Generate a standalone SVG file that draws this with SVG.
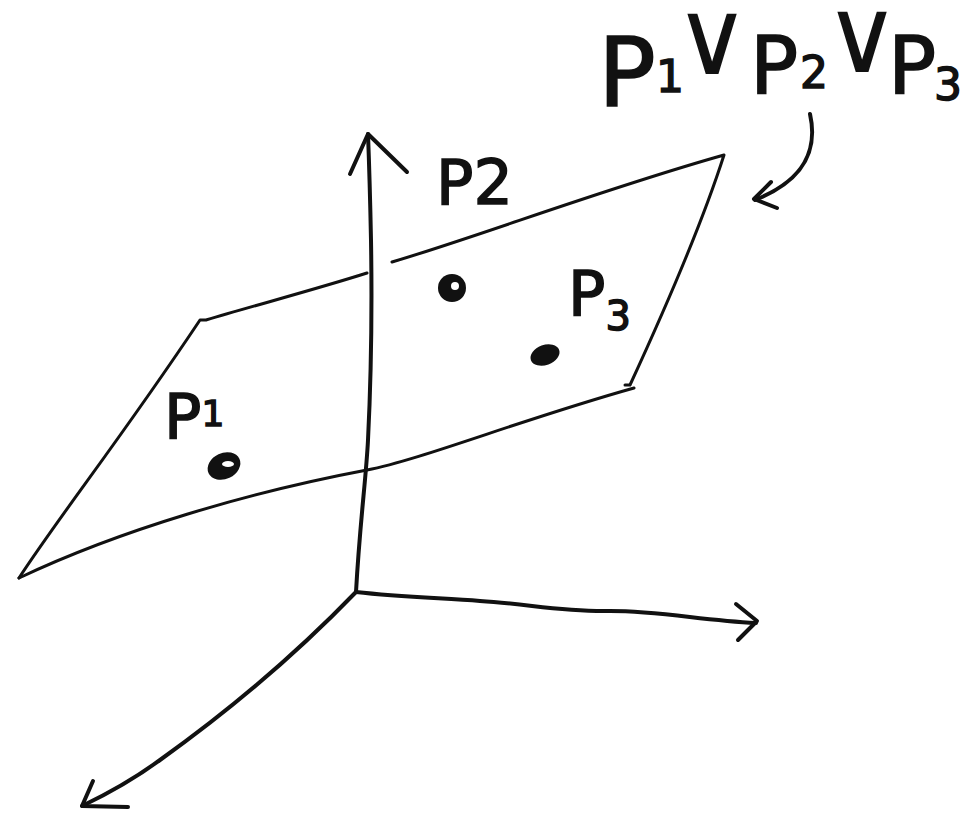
<svg xmlns="http://www.w3.org/2000/svg" width="964" height="822" viewBox="0 0 964 822">
<style>
.ln{fill:none;stroke:#111;stroke-width:4;stroke-linecap:round;stroke-linejoin:round}
.th{stroke-width:3}
.tx{font-family:"DejaVu Sans","Liberation Sans",sans-serif;fill:#111;stroke:#111;stroke-width:1.5}
.or{font-family:"DejaVu Sans","Liberation Sans",sans-serif;fill:#111;font-size:104px}
</style>
<rect width="964" height="822" fill="#fff"/>
<g id="connectors">
  <path class="ln" d="M356 592 C360 520 366 480 368 440 C371 380 372 300 371 240 C370 190 369 160 368 134"/>
  <path class="ln" d="M350 174 L368 134 L407 172"/>
  <path class="ln" d="M356 592 C400 597 440 598 480 601 C530 604 560 612 610 611 C660 611 700 620 756 623"/>
  <path class="ln" d="M736 604 L757 621 L738 640"/>
  <path class="ln" d="M356 592 C300 650 230 710 160 760 C130 782 105 795 82 806"/>
  <path class="ln" d="M93 781 L82 806 L128 807"/>
  <path class="ln" d="M810 114 C818 150 805 180 755 200"/>
  <path class="ln" d="M771 182 L754 199 L777 208"/>
</g>
<g id="plane">
  <path class="ln th" d="M19 578 C60 515 120 440 200 320 L206 320 C260 304 320 288 367 273"/>
  <path class="ln th" d="M392 262 C480 236 600 190 724 155 C700 230 660 320 630 385 L625 385"/>
  <path class="ln th" d="M634 388 C520 420 420 460 367 470 C250 492 120 530 19 578"/>
</g>
<g id="p1">
  <text class="tx" x="164" y="438" font-size="62">P<tspan font-size="36" dy="-12">1</tspan></text>
  <ellipse cx="224" cy="466" rx="17" ry="13" transform="rotate(-25 224 466)" fill="#111"/>
  <ellipse cx="228" cy="464" rx="6" ry="3" fill="#fff"/>
</g>
<g id="p2">
  <text class="tx" x="436" y="204" font-size="62">P2</text>
  <circle cx="452" cy="288" r="14" fill="#111"/>
  <circle cx="455" cy="286" r="4" fill="#fff"/>
</g>
<g id="p3">
  <text class="tx" x="568" y="315" font-size="62">P<tspan font-size="40" dy="15">3</tspan></text>
  <ellipse cx="545" cy="355" rx="15" ry="10" transform="rotate(-20 545 355)" fill="#111"/>
</g>
<g id="label">
  <text class="tx" x="598" y="106" font-size="96">P<tspan x="656" y="92" font-size="44">1</tspan></text>
  <text class="or" x="674" y="74">∨</text>
  <text class="tx" x="750" y="94" font-size="80">P<tspan x="800" y="88" font-size="44">2</tspan></text>
  <text class="or" x="824" y="72">∨</text>
  <text class="tx" x="888" y="94" font-size="80">P<tspan x="934" y="100" font-size="44">3</tspan></text>
</g>
</svg>
